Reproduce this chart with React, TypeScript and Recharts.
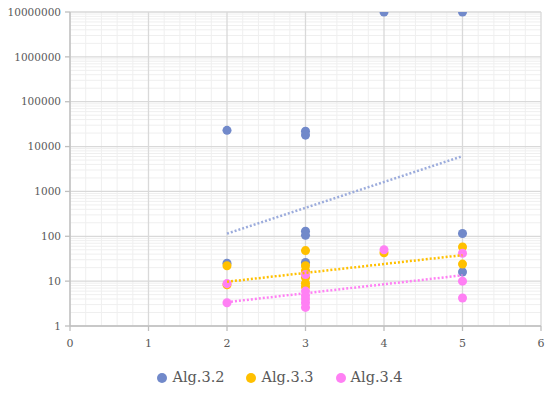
import React from 'react';
import {
  ScatterChart, Scatter, XAxis, YAxis, ZAxis, CartesianGrid, Legend,
} from 'recharts';

const seriesNames = ['Alg.3.2', 'Alg.3.3', 'Alg.3.4'];
const seriesColors = ['#7189ca', '#ffc000', '#ff80f4'];
const trendColors = ['#9cacdc', '#ffc000', '#ff80f4'];

const alg32X = [2, 2, 3, 3, 3, 3, 3, 4, 5, 5, 5];
const alg32Y = [23000, 25, 22000, 18000, 130, 105, 26, 10000000, 10000000, 115, 16];

const alg33X = [2, 2, 3, 3, 3, 3, 3, 3, 4, 5, 5];
const alg33Y = [22, 8.3, 48, 22, 17, 12, 9, 7.5, 43, 58, 24];

const alg34X = [2, 2, 3, 3, 3, 3, 3, 3, 4, 5, 5, 5];
const alg34Y = [8.8, 3.3, 14, 6, 4.8, 4, 3.3, 2.6, 50, 42, 10, 4.2];

const trendX = [2, 5];
const trend32Y = [115, 6100];
const trend33Y = [9.7, 38];
const trend34Y = [3.4, 13.5];

const xTicks = [0, 1, 2, 3, 4, 5, 6];
const yTicks = [1, 10, 100, 1000, 10000, 100000, 1000000, 10000000];
const xMinor = [0.2, 0.4, 0.6, 0.8, 1.2, 1.4, 1.6, 1.8, 2.2, 2.4, 2.6, 2.8, 3.2, 3.4, 3.6, 3.8, 4.2, 4.4, 4.6, 4.8, 5.2, 5.4, 5.6, 5.8];
const yMinorMult = [2, 3, 4, 5, 6, 7, 8, 9];

const zip = (xs: number[], ys: number[]) => xs.map((x, i) => ({ x, y: ys[i] }));

const data32 = zip(alg32X, alg32Y);
const data33 = zip(alg33X, alg33Y);
const data34 = zip(alg34X, alg34Y);
const tr32 = zip(trendX, trend32Y);
const tr33 = zip(trendX, trend33Y);
const tr34 = zip(trendX, trend34Y);

const yMinor: number[] = [];
for (let d = 0; d < 7; d++) {
  for (const m of yMinorMult) yMinor.push(m * Math.pow(10, d));
}

const FONT = '"DejaVu Serif", serif';
const TEXT = '#595959';

const NoDot = () => <g />;

const renderLegend = (props: any) => {
  const items = (props.payload || []).filter((p: any) => p.type !== 'none');
  return (
    <div style={{ display: 'flex', justifyContent: 'center', fontFamily: FONT, fontSize: 14.5, lineHeight: '17px', color: TEXT }}>
      {items.map((p: any, i: number) => (
        <div key={i} style={{ display: 'flex', alignItems: 'center', marginRight: i < items.length - 1 ? 22 : 0 }}>
          <svg width={10} height={10} style={{ marginRight: 5 }}>
            <circle cx={5} cy={5} r={5} fill={p.color} />
          </svg>
          <span>{p.value}</span>
        </div>
      ))}
    </div>
  );
};

export default function App() {
  return (
    <div style={{ position: 'fixed', left: 0, top: 0, width: 550, height: 396, background: '#fff' }}>
      <ScatterChart
        width={550}
        height={396}
        margin={{ top: 12, right: 9, left: 0, bottom: 40 }}
      >
        <CartesianGrid
          stroke="#efefef"
          strokeWidth={1}
          horizontalValues={yMinor}
          verticalValues={xMinor}
        />
        <CartesianGrid
          stroke="#d9d9d9"
          strokeWidth={1.3}
          horizontalValues={yTicks}
          verticalValues={xTicks}
        />
        <XAxis
          type="number"
          dataKey="x"
          domain={[0, 6]}
          ticks={xTicks}
          allowDataOverflow
          interval={0}
          height={30}
          stroke="#bfbfbf"
          strokeWidth={1.3}
          tickSize={5}
          tick={{ fill: TEXT, fontSize: 11, fontFamily: FONT }}
          tickMargin={8}
        />
        <YAxis
          type="number"
          dataKey="y"
          scale="log"
          domain={[1, 10000000]}
          ticks={yTicks}
          allowDataOverflow
          interval={0}
          width={70}
          stroke="#bfbfbf"
          strokeWidth={1.3}
          tickSize={5}
          tickMargin={4}
          tick={{ fill: TEXT, fontSize: 10.5, fontFamily: FONT }}
          tickFormatter={(v: number) => String(v)}
        />
        <ZAxis range={[80, 80]} />
        <Legend
          verticalAlign="middle"
          align="center"
          layout="horizontal"
          content={renderLegend}
          wrapperStyle={{ position: 'absolute', top: 369, left: 5, width: 550 }}
        />
        <Scatter name="t32" data={tr32} line={{ stroke: trendColors[0], strokeWidth: 2.5, strokeDasharray: '2 2' }} lineType="joint" shape={NoDot} legendType="none" isAnimationActive={false} />
        <Scatter name={seriesNames[0]} data={data32} fill={seriesColors[0]} isAnimationActive={false} />
        <Scatter name={seriesNames[1]} data={data33} fill={seriesColors[1]} isAnimationActive={false} />
        <Scatter name={seriesNames[2]} data={data34} fill={seriesColors[2]} isAnimationActive={false} />
        <Scatter name="t33" data={tr33} line={{ stroke: trendColors[1], strokeWidth: 2.5, strokeDasharray: '2 2' }} lineType="joint" shape={NoDot} legendType="none" isAnimationActive={false} />
        <Scatter name="t34" data={tr34} line={{ stroke: trendColors[2], strokeWidth: 2.5, strokeDasharray: '2 2' }} lineType="joint" shape={NoDot} legendType="none" isAnimationActive={false} />
      </ScatterChart>
    </div>
  );
}
